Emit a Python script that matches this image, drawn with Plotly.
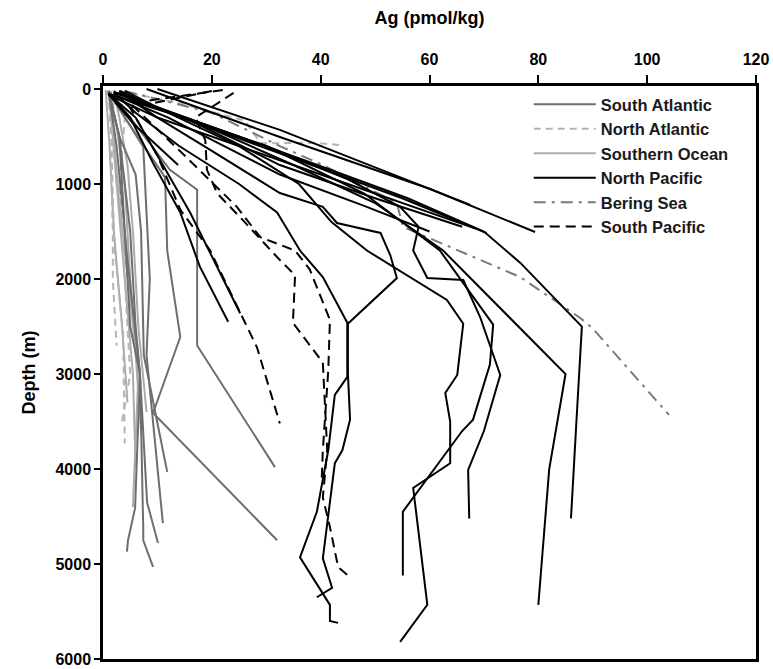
import plotly.graph_objects as go

# Dissolved silver profiles: each profile is a list of (Ag pmol/kg, depth m) points.
south_atlantic = [
    [(1, 20), (5, 300), (12.3, 850), (17.3, 1060), (17.3, 2700), (31.6, 3980)],
    [(1, 30), (4, 300), (11.4, 930), (11.8, 1700), (14.2, 2610), (9.2, 3410), (32, 4750)],
    [(1, 20), (3, 500), (4, 1500), (5, 2500), (6.8, 3000), (5.9, 4410), (4.6, 4750), (4.4, 4870)],
    [(1, 20), (3, 500), (5, 1500), (6, 2500), (6.8, 3000), (8.1, 4350), (10.1, 4780)],
    [(1, 20), (2.5, 600), (4.5, 1800), (6.8, 3000), (7.4, 4640), (7.4, 4750), (9.2, 5030)],
    [(1, 20), (7.4, 610), (8.6, 2000), (8, 2800), (11, 4570)],
    [(1, 20), (3, 500), (6, 900), (7, 1500), (7.5, 2800), (11.8, 4030)],
]

north_atlantic = [
    [(1, 20), (1.5, 500), (2, 1500), (2.2, 1730), (3.7, 2570), (4, 3730)],
    [(2, 20), (1.5, 800), (1.8, 1500), (1.8, 2000), (2.5, 2700)],
    [(3, 30), (4, 300), (3, 1000), (4, 2000), (5, 3000), (3.5, 3500)],
    [(3, 20), (14, 150), (26, 330), (29, 570), (39.3, 568), (43.6, 590)],
]

southern_ocean = [
    [(1, 20), (1.5, 300), (2.5, 1000), (4, 2000), (5.5, 3000), (6, 4000)],
    [(1.5, 20), (2, 500), (3, 1200), (4.5, 2000), (6.5, 3000), (5.5, 4400)],
    [(1, 30), (2.5, 400), (4, 1000), (5, 2000), (6, 2800), (7, 3600)],
    [(2, 10), (3, 300), (4.5, 800), (5.5, 1500), (6.5, 2500), (8, 3400)],
    [(0.5, 10), (1.2, 600), (2, 1500), (3.5, 2500), (4.5, 3300)],
]

north_pacific = [
    [(3, 20), (8, 150), (20, 400), (37, 750), (56, 1150), (70, 1500), (76.7, 1830),
     (88, 2500), (87, 3500), (86, 4520)],
    [(2, 30), (8, 150), (20, 420), (35, 800), (50, 1200), (62.5, 1700), (85, 3000),
     (82, 4000), (80, 5430)],
    [(3, 20), (10, 200), (30, 600), (45, 950), (54.6, 1240), (58, 1450), (57, 1700),
     (59.6, 1990), (66.2, 2010), (69.3, 2400), (73, 3010), (70, 3600), (67.1, 4010),
     (67.3, 4520)],
    [(2, 30), (10, 200), (30, 600), (48, 1100), (61.9, 1700), (71.7, 2480), (71.1, 2900),
     (68, 3480), (66, 3600), (55.1, 4450), (55.1, 5120)],
    [(4, 20), (12, 250), (25, 600), (36, 1000), (42, 1400), (48.5, 1700), (63.2, 2220),
     (66.2, 2470), (65.1, 3010), (62.9, 3200), (63.8, 3500), (63.8, 3940), (57, 4200),
     (59.6, 5430), (54.6, 5820)],
    [(3, 30), (10, 300), (20, 650), (32.5, 1095), (40.4, 1240), (43, 1410), (51, 1515),
     (52.8, 1750), (54, 1990), (45, 2470), (45, 2990), (45.4, 3480), (44, 3800),
     (42.6, 3940), (40.4, 4940), (42.1, 5250), (39.3, 5350)],
    [(2, 40), (6, 250), (14, 600), (25, 1000), (32, 1300), (36.2, 1700), (40.4, 1980),
     (44.9, 2460), (44.9, 3030), (42.6, 3220), (41.4, 3800), (39.3, 4450), (36.2, 4930),
     (41.7, 5430), (41.7, 5600), (43.2, 5620)],
    [(8, 0), (32.5, 505), (60, 1050), (79.4, 1505)],
    [(1, 50), (12, 250), (36, 750), (55, 1150), (70.5, 1516)],
    [(10, 0), (32.5, 430), (67.5, 1220)],
    [(1, 60), (10, 300), (35, 800), (55, 1200), (68.5, 1470)],
    [(2, 40), (15, 300), (32.5, 800), (50, 1150), (66, 1450)],
    [(2, 60), (12, 300), (32.5, 900), (48, 1230), (60, 1500)],
    [(1, 50), (5, 300), (9.2, 780), (14.2, 1300), (17.8, 1870), (23, 2450)],
    [(1, 50), (6, 300), (10, 700), (16, 1300), (25.2, 2360)],
    [(1, 50), (5.5, 360), (13.8, 800)],
]

bering_sea = [
    [(4, 20), (20, 250), (32.5, 600), (40.4, 800), (54, 1200), (55.1, 1450), (76.7, 1980),
     (87.7, 2410), (90, 2520), (104, 3430)],
]

south_pacific = [
    [(20, 20), (5, 200), (10, 700), (14.2, 1270), (19.7, 1700), (25.2, 2350), (28.3, 2720),
     (32.5, 3520)],
    [(24, 40), (17, 300), (18.8, 540), (19.1, 850), (21, 1100), (25.7, 1380), (32.5, 1800),
     (35.3, 1960), (34.9, 2460), (40.4, 2880), (41.2, 3800), (40.4, 4300), (41.7, 4610),
     (43.2, 5030), (45.4, 5140)],
    [(22, 10), (5, 150), (15, 700), (24.6, 1240), (28.9, 1560), (35.3, 1700), (38, 1900),
     (41.7, 2430), (41.4, 2960), (40.4, 3800), (40.2, 4100)],
]

region_names = ["South Atlantic", "North Atlantic", "Southern Ocean",
                "North Pacific", "Bering Sea", "South Pacific"]
x_ticks = [0, 20, 40, 60, 80, 100, 120]
y_ticks = [0, 1000, 2000, 3000, 4000, 5000, 6000]

regions = [south_atlantic, north_atlantic, southern_ocean,
           north_pacific, bering_sea, south_pacific]
line_styles = [
    dict(color="#6e6e6e", width=2, dash="solid"),
    dict(color="#b4b4b4", width=2, dash="7px,5px"),
    dict(color="#ababab", width=2, dash="solid"),
    dict(color="#000000", width=2, dash="solid"),
    dict(color="#7a7a7a", width=2, dash="12px,6px,3px,6px"),
    dict(color="#000000", width=2, dash="10px,6px"),
]
# light-coloured groups are drawn first so the dark profiles sit on top
draw_order = [2, 1, 0, 4, 3, 5]

fig = go.Figure()
for idx in draw_order:
    for k, profile in enumerate(regions[idx]):
        fig.add_trace(go.Scatter(
            x=[p[0] for p in profile],
            y=[p[1] for p in profile],
            mode="lines",
            line=line_styles[idx],
            name=region_names[idx],
            legendgroup=region_names[idx],
            legendrank=idx + 1,
            showlegend=(k == 0),
            hoverinfo="skip",
        ))

font_family = "Liberation Sans, Arial, sans-serif"
fig.update_layout(
    width=773, height=669,
    margin=dict(l=103, r=17, t=86, b=10, autoexpand=False),
    paper_bgcolor="white", plot_bgcolor="white",
    font=dict(family=font_family, size=16, color="black", weight="bold"),
    legend=dict(
        x=0.652, y=0.998, xanchor="left", yanchor="top",
        bgcolor="rgba(0,0,0,0)", borderwidth=0,
        font=dict(family=font_family, size=16.5, color="#1a1a1a", weight="bold"),
        itemwidth=62, tracegroupgap=0, traceorder="normal",
    ),
    xaxis=dict(
        side="top", range=[0, 120], tickvals=x_ticks,
        ticks="outside", ticklen=8, tickwidth=2, tickcolor="black",
        ticklabelstandoff=4,
        showline=True, linewidth=2.5, linecolor="black", mirror=True,
        showgrid=False, zeroline=False, automargin=False,
        title=dict(text="Ag (pmol/kg)", standoff=22,
                   font=dict(size=18, weight="bold")),
        tickfont=dict(size=16, weight="bold"),
    ),
    yaxis=dict(
        range=[6000, -32], tickvals=y_ticks,
        ticks="outside", ticklen=6, tickwidth=2, tickcolor="black",
        showline=True, linewidth=2.5, linecolor="black", mirror=True,
        showgrid=False, zeroline=False, automargin=False,
        title=dict(text="Depth (m)", standoff=16,
                   font=dict(size=18, weight="bold")),
        tickfont=dict(size=16, weight="bold"),
    ),
)

fig.write_html("out.html")
